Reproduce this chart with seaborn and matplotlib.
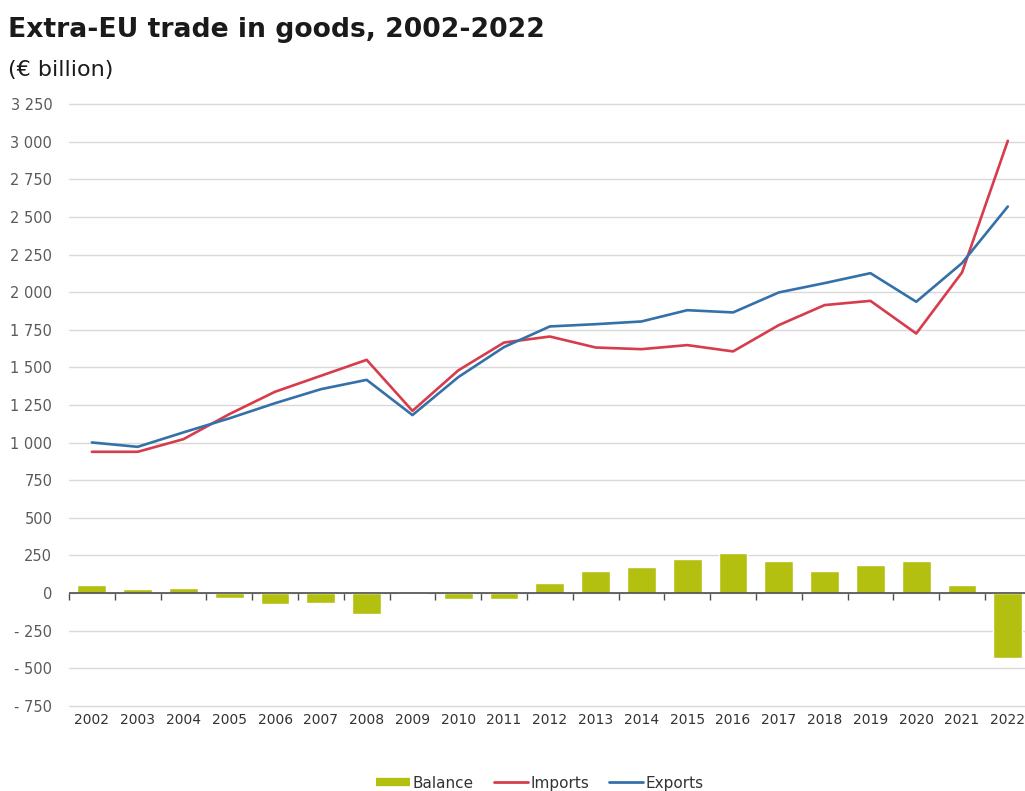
import numpy as np
import matplotlib
matplotlib.use("Agg")
import matplotlib.pyplot as plt
from matplotlib.lines import Line2D
import seaborn as sns

# Extra-EU trade in goods, EUR billion
years = [str(y) for y in range(2002, 2023)]
imports = [939, 939, 1023, 1189, 1338, 1444, 1550, 1211, 1480, 1665,
           1705, 1632, 1621, 1648, 1606, 1781, 1914, 1942, 1725, 2131, 3006]
exports = [1001, 972, 1068, 1161, 1262, 1355, 1417, 1183, 1435, 1635,
           1772, 1787, 1805, 1880, 1865, 1998, 2060, 2126, 1936, 2193, 2569]
balance = [55, 25, 37, -30, -75, -63, -137, -5, -40, -40,
           66, 144, 171, 226, 264, 215, 144, 186, 213, 53, -430]

y_ticks = list(range(-750, 3251, 250))

GREEN = "#b3c010"
RED = "#d63c4c"
BLUE = "#3571a9"

sns.set_style("white")
plt.rcParams["font.family"] = ["DejaVu Sans"]

fig = plt.figure(figsize=(10.25, 7.91), dpi=100)
ax = fig.add_axes([0.0673, 0.1075, 0.9383, 0.761])

sns.barplot(x=years, y=balance, color=GREEN, width=0.63, saturation=1,
            ax=ax, zorder=2)
pos = np.arange(len(years))
sns.lineplot(x=pos, y=imports, color=RED, linewidth=1.9, ax=ax, zorder=4)
sns.lineplot(x=pos, y=exports, color=BLUE, linewidth=1.9, ax=ax, zorder=5)

ax.set_xlim(-0.5, len(years) - 0.5)
ax.set_ylim(-750, 3250)
ax.set_yticks(y_ticks)


def fmt(v):
    s = f"{abs(v):,}".replace(",", " ")
    return f"- {s}" if v < 0 else s


ax.set_yticklabels([fmt(v) for v in y_ticks])
ax.set_xticks(pos)
ax.set_xticklabels(years)
ax.set_xlabel("")
ax.set_ylabel("")

ax.yaxis.grid(True, color="#d9d9d9", linewidth=1.0, zorder=0)
for gl in ax.get_ygridlines():
    gl.set_clip_on(False)
ax.set_axisbelow(True)
for s in ax.spines.values():
    s.set_visible(False)

ax.tick_params(axis="y", length=0, pad=12, labelsize=10.5, labelcolor="#5a5a5a")
ax.tick_params(axis="x", length=0, pad=5, labelsize=10, labelcolor="#333333")

# zero axis with category-boundary ticks
ax.axhline(0, color="#4d4d4d", linewidth=1.2, zorder=3)
sec = ax.secondary_xaxis(750 / 4000)
sec.set_xticks(np.arange(-0.5, len(years), 1.0))
sec.tick_params(axis="x", length=5, width=1.0, color="#4d4d4d",
                direction="out", labelbottom=False, labeltop=False)
for s in sec.spines.values():
    s.set_visible(False)

fig.text(0.008, 0.962, "Extra-EU trade in goods, 2002-2022", fontsize=19.2,
         fontweight="bold", color="#1a1a1a", ha="left", va="center")
fig.text(0.008, 0.911, "(€ billion)", fontsize=16, color="#1a1a1a",
         ha="left", va="center")

handles = [
    Line2D([0], [0], color=GREEN, linewidth=6, solid_capstyle="butt"),
    Line2D([0], [0], color=RED, linewidth=2),
    Line2D([0], [0], color=BLUE, linewidth=2),
]
fig.legend(handles, ["Balance", "Imports", "Exports"], loc="center",
           bbox_to_anchor=(0.527, 0.01), ncol=3, frameon=False,
           fontsize=11, handlelength=2.2, handletextpad=0.2,
           columnspacing=1.3, labelcolor="#333333")

fig.savefig("out.png", dpi=100)
